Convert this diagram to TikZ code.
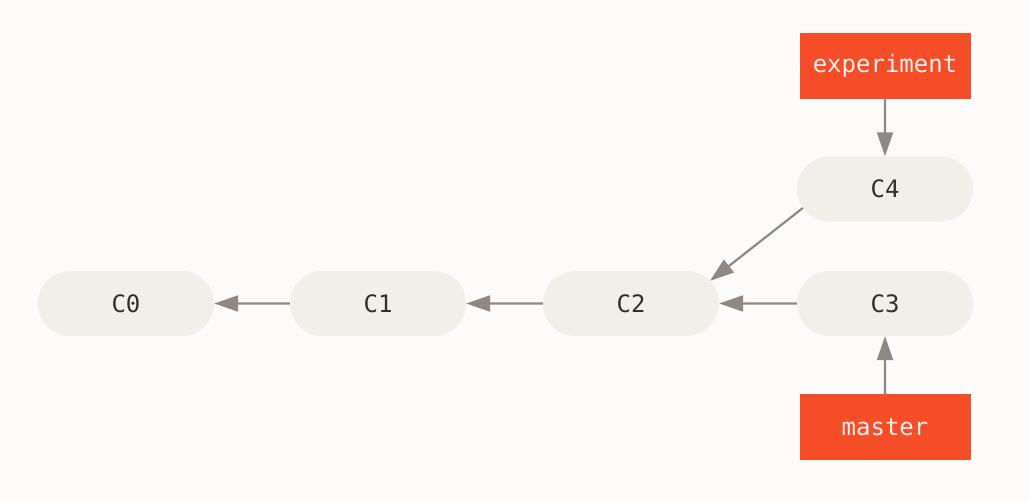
\documentclass[tikz,border=0pt]{standalone}
\usepackage{fontspec}
\setmonofont{DejaVu Sans Mono}
\usetikzlibrary{shapes.misc,arrows.meta}
\definecolor{bgc}{HTML}{FCFBFA}
\definecolor{pill}{HTML}{F0EFEA}
\definecolor{brc}{HTML}{F44D27}
\definecolor{arr}{HTML}{8F8983}
\definecolor{txt}{HTML}{33302C}
\tikzset{
  commit/.style={rounded rectangle, fill=pill, draw=none, minimum width=176pt, minimum height=65pt, inner sep=0pt, font=\ttfamily\fontsize{24}{28}\selectfont, text=txt},
  branch/.style={rectangle, fill=brc, draw=none, minimum width=171pt, minimum height=66pt, inner sep=0pt, font=\ttfamily\fontsize{24}{28}\selectfont, text=pill},
  link/.style={draw=arr, line width=2.2pt, -{Triangle[length=24pt,width=16pt]}}
}
\begin{document}
\begin{tikzpicture}[x=1pt,y=-1pt]
\fill[bgc] (0,0) rectangle (1029,501);
\useasboundingbox (0,0) rectangle (1029,501);
\node[commit] (C0) at (126,303.5) {C0};
\node[commit] (C1) at (378,303.5) {C1};
\node[commit] (C2) at (631,303.5) {C2};
\node[commit] (C3) at (885,303.5) {C3};
\node[commit] (C4) at (885,189) {C4};
\node[branch] (exp) at (885,65.5) {experiment};
\node[branch] (mas) at (885,427) {master};
\draw[link] (C1) -- (C0);
\draw[link] (C2) -- (C1);
\draw[link] (C3) -- (C2);
\draw[link] (C4.193) -- (C2.16);
\draw[link] (exp) -- (C4);
\draw[link] (mas) -- (C3);
\end{tikzpicture}
\end{document}
